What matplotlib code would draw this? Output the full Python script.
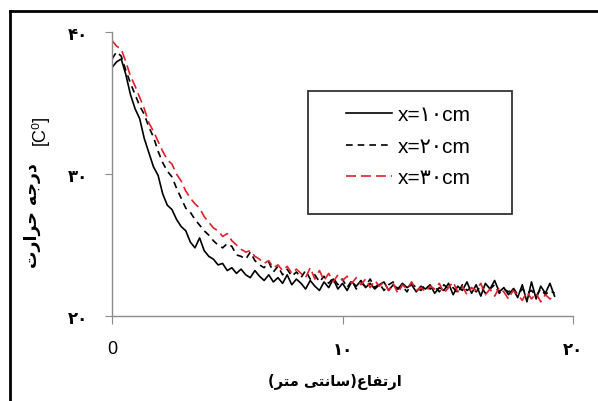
import numpy as np
import matplotlib.pyplot as plt
from matplotlib.lines import Line2D
from matplotlib.patches import Rectangle

# height (cm), one reading every 0.2 cm
height = np.round(np.linspace(0, 19.2, 97), 1)

# temperature for x = 10 cm (solid black)
temp_10 = [37.5, 37.9, 38.1, 37.0, 35.6, 34.6, 33.9, 32.5, 31.5, 30.5,
           29.9, 28.6, 27.8, 27.5, 26.8, 26.3, 26.0, 25.2, 24.8, 25.5,
           24.6, 24.2, 24.0, 23.6, 23.7, 23.2, 23.4, 23.0, 23.3, 22.9,
           22.7, 23.2, 22.8, 22.5, 22.9, 22.4, 22.7, 22.3, 22.9, 22.2,
           22.6, 22.3, 21.9, 22.5, 22.1, 21.8, 22.4, 22.0, 22.6, 21.9,
           22.3, 21.8, 22.4, 22.1, 22.5, 22.0, 22.3, 21.9, 22.2, 22.4,
           21.8, 22.2, 21.9, 22.3, 22.0, 22.2, 21.7, 22.1, 21.9, 22.2,
           21.6, 22.0, 21.8, 22.3, 21.5, 22.1, 21.8, 22.4, 21.6, 22.2,
           21.4, 22.3, 21.9, 22.5, 21.7, 22.0, 21.5, 21.9, 21.3, 22.2,
           21.0, 22.4, 21.2, 22.1, 21.6, 22.3, 21.4]

# x = 20 cm (short black dashes)
temp_20 = [38.1, 38.6, 38.3, 37.3, 36.4, 35.6, 34.8, 34.2, 33.3, 32.6,
           31.6, 30.8, 30.2, 29.8, 29.0, 28.3, 27.6, 27.3, 26.8, 26.4,
           26.0, 25.7, 25.3, 25.0, 24.8, 25.1, 24.9, 24.3, 24.2, 24.0,
           24.5, 23.9, 23.6, 23.4, 23.8, 23.1, 23.5, 22.9, 23.3, 22.8,
           23.1, 22.7, 23.2, 22.6, 22.9, 22.4, 22.8, 22.3, 22.7, 22.2,
           22.6, 22.0, 22.5, 21.9, 22.3, 22.1, 22.6, 22.0, 22.3, 21.8,
           22.2, 22.4, 21.9, 22.1, 21.7, 22.3, 22.0, 21.8, 22.2, 21.9,
           22.1, 21.7, 22.2, 21.9, 22.0, 21.6, 22.2, 21.8, 22.0, 21.7,
           22.1, 21.6, 21.9, 22.2, 21.6, 21.9, 21.7, 22.0, 21.5, 21.9,
           21.6, 21.8, 21.4, 21.9, 21.5, 21.8, 21.6]

# x = 30 cm (red dashes)
temp_30 = [39.4, 39.0, 38.8, 37.9, 36.9, 36.2, 35.4, 34.6, 33.6, 33.0,
           32.3, 31.6, 31.0, 30.7, 30.0, 29.5, 28.8, 28.3, 27.9, 27.6,
           27.0, 26.6, 26.2, 26.0, 25.6, 25.8, 25.3, 25.0, 24.7, 24.5,
           24.6, 24.2, 24.0, 23.7, 23.9, 23.4, 23.6, 23.2, 23.5, 23.0,
           23.3, 23.0, 22.7, 23.4, 22.6, 23.2, 22.5, 23.0, 22.4, 22.9,
           22.5, 22.8, 22.3, 22.7, 22.2, 22.6, 22.0, 22.5, 22.1, 22.4,
           21.8, 22.3, 21.6, 22.2, 21.9, 22.4, 21.8, 22.0, 21.7, 22.1,
           21.9, 22.3, 21.6, 22.0, 22.4, 21.7, 22.1, 21.5, 22.0, 21.8,
           22.3, 21.5, 21.9, 21.4, 22.0, 21.7, 21.2, 21.8, 21.5, 21.1,
           21.7, 21.2, 21.6, 21.0, 21.5, 21.2, 21.4]

labels = ['x=\u06f1\u06f0cm', 'x=\u06f2\u06f0cm', 'x=\u06f3\u06f0cm']
yticks = [20, 30, 40]
ytick_labels = ['\u06f2\u06f0', '\u06f3\u06f0', '\u06f4\u06f0']
xticks = [0, 10, 20]
xtick_labels = ['0', '\u06f1\u06f0', '\u06f2\u06f0']

# persian text, already shaped and in visual order
xlab = ('(\ufeae\ufe98\ufee3 \ufef0\ufe98\ufee7\ufe8e\ufeb3)'
        '\ufec9\ufe8e\ufed4\ufe97\ufead\ufe8d')
ylab = '\ufe95\ufead\ufe8d\ufeae\ufea3 \ufeea\ufe9f\ufead\ufea9'

W, H = 598, 402
fig = plt.figure(figsize=(W / 100, H / 100), dpi=100)
ax = fig.add_axes([112 / W, 85 / H, 461 / W, 284 / H])

ax.plot(height, temp_10, color='black', lw=1.2, label=labels[0])
ax.plot(height, temp_20, color='black', lw=1.2, dashes=(4, 3), label=labels[1])
ax.plot(height, temp_30, color='#e0202a', lw=1.2, dashes=(6, 3), label=labels[2])

ax.set_xlim(0, 20)
ax.set_ylim(20, 40)
for s in ['top', 'right']:
    ax.spines[s].set_visible(False)
for s in ['left', 'bottom']:
    ax.spines[s].set_color('#8c8c8c')
    ax.spines[s].set_linewidth(1.0)

ax.set_yticks(yticks)
ax.set_yticklabels(ytick_labels, fontweight='bold', fontsize=12, family='DejaVu Sans')
ax.set_xticks(xticks)
ax.set_xticklabels(xtick_labels, fontsize=13, family=['Liberation Sans', 'DejaVu Sans'])
for t in ax.get_xticklabels()[1:]:
    t.set_fontweight('bold')
    t.set_family('DejaVu Sans')
    t.set_fontsize(12)
ax.tick_params(axis='y', length=5, color='#8c8c8c', pad=12)
ax.tick_params(axis='x', length=6, color='#8c8c8c', pad=11)

fig.text(335 / W, 1 - 382 / H, xlab, ha='center', va='center',
         fontsize=10.5, fontweight='bold', family='DejaVu Sans')
fig.text(32 / W, 1 - 216 / H, ylab, ha='center', va='center', rotation=90,
         fontsize=12.5, fontweight='bold', family='DejaVu Sans')
fig.text(40 / W, 1 - 130 / H, '[C\u2070]', ha='center', va='center', rotation=90,
         fontsize=13, family=['Liberation Sans', 'DejaVu Sans'])

# legend box drawn separately, legend itself frameless
fig.add_artist(Rectangle((308 / W, 1 - 215 / H), 204 / W, 123 / H,
                         transform=fig.transFigure, fill=False,
                         edgecolor='#333333', lw=1.3))
ax.legend(loc='upper left', bbox_to_anchor=(336 / W, 1 - 96 / H),
          bbox_transform=fig.transFigure, frameon=False, borderpad=0,
          handlelength=2.2, handletextpad=0.25, labelspacing=0.6,
          prop={'family': ['Liberation Sans', 'DejaVu Sans'], 'size': 15})

# outer frame (top and left edges visible)
fig.add_artist(Line2D([10 / W, 1.0], [1 - 12 / H, 1 - 12 / H],
                      transform=fig.transFigure, color='black', lw=2))
fig.add_artist(Line2D([10 / W, 10 / W], [0, 1 - 12 / H],
                      transform=fig.transFigure, color='black', lw=2))

fig.savefig('out.png', dpi=100)
